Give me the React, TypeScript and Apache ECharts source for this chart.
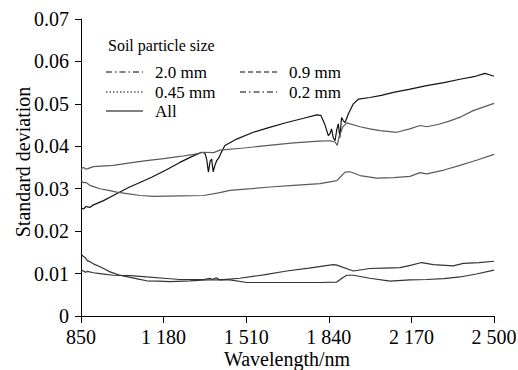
import React, { useEffect, useRef } from "react";
import * as echarts from "echarts";

// Wavelength ticks (nm)
const xTicks = [850, 1180, 1510, 1840, 2170, 2500];

// Series A (black, rising from 0.025)
const aWl = [850, 860, 870, 885, 900, 940, 979, 1040, 1090, 1132, 1190, 1245, 1290, 1332, 1345, 1352, 1359, 1366, 1372, 1378, 1385, 1392, 1400, 1410, 1425, 1472, 1538, 1600, 1672, 1740, 1792, 1808, 1825, 1838, 1845, 1851, 1858, 1865, 1872, 1878, 1884, 1891, 1898, 1905, 1918, 1938, 1958, 2004, 2050, 2098, 2160, 2231, 2300, 2364, 2420, 2464, 2485, 2500];
const aVal = [0.0255, 0.0252, 0.0258, 0.0256, 0.0262, 0.0272, 0.0284, 0.0303, 0.0316, 0.0327, 0.0344, 0.0362, 0.0375, 0.0386, 0.0384, 0.037, 0.0339, 0.0365, 0.037, 0.034, 0.0355, 0.0366, 0.0372, 0.0385, 0.0402, 0.0417, 0.0433, 0.0444, 0.0456, 0.0466, 0.0474, 0.0473, 0.045, 0.0425, 0.043, 0.0441, 0.042, 0.0413, 0.044, 0.0453, 0.042, 0.0468, 0.046, 0.0456, 0.0476, 0.05, 0.0511, 0.0515, 0.052, 0.0527, 0.0534, 0.0543, 0.055, 0.0558, 0.0564, 0.0572, 0.0568, 0.0565];

// Series B (gray, from 0.035)
const bWl = [850, 855, 860, 870, 880, 900, 979, 1046, 1112, 1180, 1245, 1300, 1339, 1380, 1405, 1500, 1600, 1700, 1800, 1845, 1865, 1874, 1880, 1895, 1912, 1965, 2004, 2045, 2111, 2164, 2204, 2231, 2280, 2324, 2370, 2417, 2460, 2500];
const bVal = [0.0343, 0.0349, 0.035, 0.0346, 0.0348, 0.0352, 0.0355, 0.0361, 0.0366, 0.0371, 0.0376, 0.0381, 0.0386, 0.0385, 0.0391, 0.0396, 0.0402, 0.0408, 0.0412, 0.0413, 0.041, 0.0402, 0.042, 0.0445, 0.0455, 0.0446, 0.0441, 0.0437, 0.0433, 0.0441, 0.0449, 0.0446, 0.0452, 0.046, 0.047, 0.0484, 0.0493, 0.0501];

// Series C (gray, from 0.032)
const cWl = [850, 860, 870, 885, 900, 926, 960, 993, 1040, 1086, 1139, 1250, 1339, 1400, 1445, 1530, 1605, 1700, 1805, 1872, 1890, 1905, 1925, 1965, 2031, 2100, 2164, 2204, 2231, 2300, 2364, 2430, 2500];
const cVal = [0.0319, 0.0314, 0.0315, 0.0308, 0.0305, 0.03, 0.0296, 0.0292, 0.0288, 0.0284, 0.0282, 0.0283, 0.0284, 0.029, 0.0296, 0.03, 0.0304, 0.0308, 0.0312, 0.0319, 0.033, 0.0339, 0.034, 0.0331, 0.0325, 0.0326, 0.0329, 0.0338, 0.0335, 0.0344, 0.0355, 0.0367, 0.0381];

// Series D (from 0.015, lower at long wavelengths)
const dWl = [850, 858, 866, 876, 886, 906, 926, 946, 966, 1000, 1046, 1080, 1112, 1160, 1206, 1285, 1352, 1445, 1512, 1650, 1805, 1872, 1895, 1912, 1938, 2004, 2085, 2164, 2231, 2300, 2364, 2430, 2500];
const dVal = [0.0147, 0.0141, 0.0138, 0.013, 0.0128, 0.0121, 0.0116, 0.011, 0.0104, 0.0097, 0.0091, 0.0087, 0.0083, 0.0082, 0.0081, 0.0083, 0.0085, 0.0085, 0.0079, 0.0079, 0.0079, 0.008, 0.009, 0.0096, 0.0096, 0.0089, 0.0082, 0.0085, 0.0086, 0.0088, 0.0092, 0.0099, 0.0108];

// Series E (from 0.0105, upper at long wavelengths)
const eWl = [850, 855, 860, 868, 875, 900, 926, 979, 1046, 1112, 1180, 1245, 1340, 1365, 1375, 1390, 1405, 1485, 1580, 1672, 1760, 1858, 1872, 1938, 2004, 2060, 2125, 2170, 2211, 2258, 2337, 2377, 2440, 2500];
const eVal = [0.0104, 0.0108, 0.0106, 0.0103, 0.0105, 0.0102, 0.01, 0.0096, 0.0095, 0.0092, 0.0089, 0.0086, 0.0086, 0.0089, 0.0086, 0.009, 0.0085, 0.0089, 0.0097, 0.0106, 0.0113, 0.0121, 0.012, 0.0106, 0.0112, 0.0113, 0.0114, 0.012, 0.0126, 0.0121, 0.0118, 0.0124, 0.0126, 0.0129];

const seriesDefs = [
  { name: "All", wl: aWl, val: aVal, color: "#111111" },
  { name: "2.0 mm", wl: bWl, val: bVal, color: "#5a5a5a" },
  { name: "0.9 mm", wl: cWl, val: cVal, color: "#5a5a5a" },
  { name: "0.45 mm", wl: dWl, val: dVal, color: "#333333" },
  { name: "0.2 mm", wl: eWl, val: eVal, color: "#333333" },
];

const legendTitle = "Soil particle size";
const legendItems = [
  { label: "2.0 mm", dash: [6, 3, 1.5, 3], col: 0, row: 0 },
  { label: "0.9 mm", dash: [5, 3], col: 1, row: 0 },
  { label: "0.45 mm", dash: [1.5, 2], col: 0, row: 1 },
  { label: "0.2 mm", dash: [6, 3, 1.5, 3], col: 1, row: 1 },
  { label: "All", dash: null as number[] | null, col: 0, row: 2 },
];
const yName = "Standard deviation";
const xName = "Wavelength/nm";

const FONT = "Liberation Serif";

export default function App() {
  const ref = useRef<HTMLDivElement>(null);
  useEffect(() => {
    if (!ref.current) return;
    const chart = echarts.init(ref.current, null, { renderer: "svg" });
    const colX = [106, 240];
    const rowY = [72, 92, 111];
    const graphic: any[] = [
      {
        type: "text",
        x: 108,
        y: 45,
        style: {
          text: legendTitle,
          fontFamily: FONT,
          fontSize: 16,
          fill: "#000",
          verticalAlign: "middle",
        },
      },
      {
        type: "text",
        x: 23,
        y: 162,
        rotation: Math.PI / 2,
        style: {
          text: yName,
          fontFamily: FONT,
          fontSize: 20,
          fill: "#000",
          align: "center",
          verticalAlign: "middle",
        },
      },
      {
        type: "text",
        x: 287,
        y: 359,
        style: {
          text: xName,
          fontFamily: FONT,
          fontSize: 20,
          fill: "#000",
          align: "center",
          verticalAlign: "middle",
        },
      },
    ];
    legendItems.forEach((it) => {
      const x0 = colX[it.col];
      const y = rowY[it.row];
      graphic.push({
        type: "line",
        shape: { x1: x0, y1: y, x2: x0 + 37, y2: y },
        style: { stroke: "#000", lineWidth: 1, lineDash: it.dash || undefined },
      });
      graphic.push({
        type: "text",
        x: x0 + 49,
        y: y,
        style: {
          text: it.label,
          fontFamily: FONT,
          fontSize: 17,
          fill: "#000",
          verticalAlign: "middle",
        },
      });
    });

    chart.setOption({
      animation: false,
      backgroundColor: "#ffffff",
      grid: { left: 81, right: 24, top: 19, bottom: 54, containLabel: false, outerBoundsMode: "none" },
      xAxis: {
        type: "value",
        min: 850,
        max: 2500,
        axisLine: { show: true, lineStyle: { color: "#000", width: 1 } },
        axisTick: { show: true, length: 7, inside: false, customValues: xTicks, lineStyle: { color: "#000" } },
        axisLabel: {
          customValues: xTicks,
          fontFamily: FONT,
          fontSize: 20,
          color: "#000",
          margin: 11,
          formatter: (v: number) => {
            const s = String(Math.round(v));
            return s.length > 3 ? s.slice(0, s.length - 3) + " " + s.slice(-3) : s;
          },
        },
        splitLine: { show: false },
      },
      yAxis: {
        type: "value",
        min: 0,
        max: 0.07,
        interval: 0.01,
        axisLine: { show: true, lineStyle: { color: "#000", width: 1 } },
        axisTick: { show: true, length: 6, inside: false, lineStyle: { color: "#000" } },
        axisLabel: {
          fontFamily: FONT,
          fontSize: 20,
          color: "#000",
          margin: 12,
          formatter: (v: number) => (Math.abs(v) < 1e-9 ? "0" : v.toFixed(2)),
        },
        splitLine: { show: false },
      },
      series: seriesDefs.map((s) => ({
        type: "line",
        name: s.name,
        showSymbol: false,
        symbol: "none",
        data: s.wl.map((w, i) => [w, s.val[i]]),
        lineStyle: { color: s.color, width: 1.2 },
        itemStyle: { color: s.color },
      })),
      graphic,
    });
    return () => chart.dispose();
  }, []);
  return (
    <div
      ref={ref}
      style={{ position: "fixed", left: 0, top: 0, width: 518, height: 370, background: "#fff" }}
    />
  );
}
